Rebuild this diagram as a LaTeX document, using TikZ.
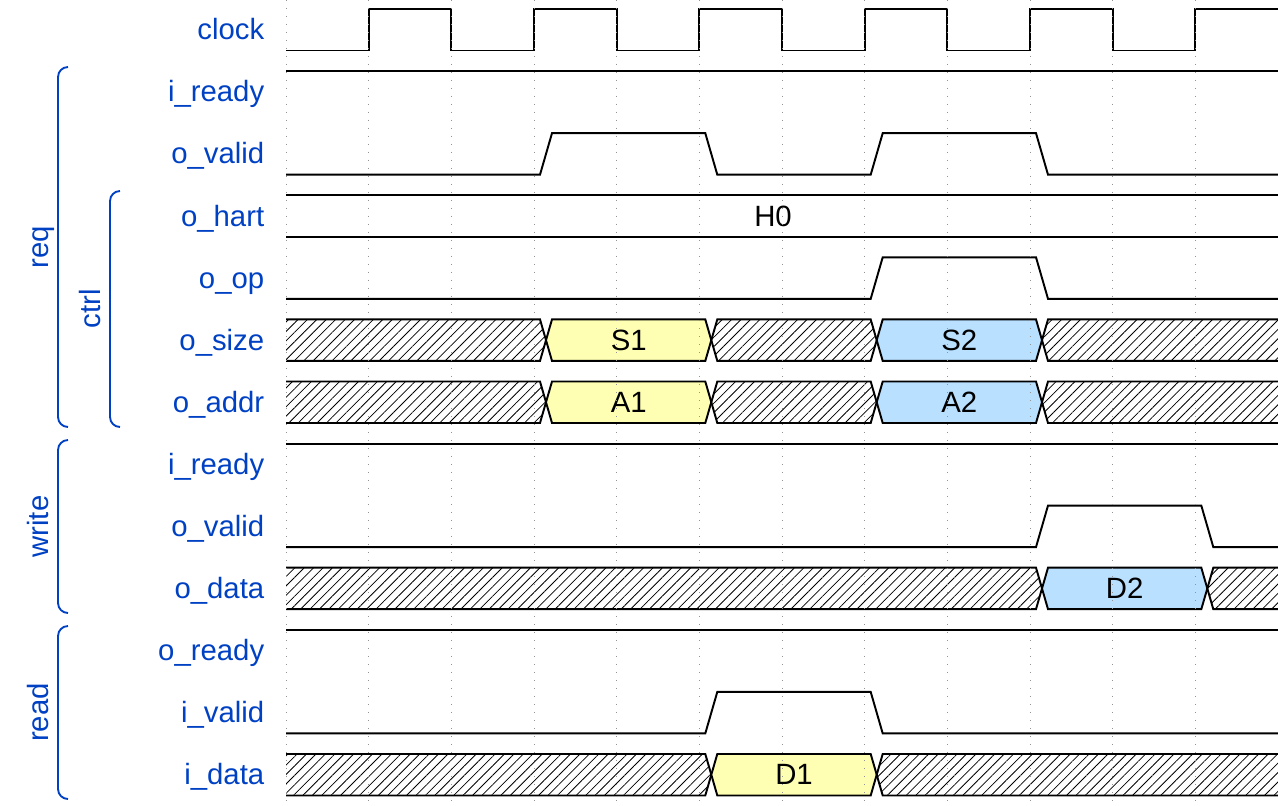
\documentclass[tikz,border=0pt]{standalone}
\usepackage{fontspec}
\setmainfont{Liberation Sans}
\usetikzlibrary{patterns.meta}
\definecolor{sigblue}{HTML}{0041C4}
\definecolor{datyel}{HTML}{FFFFB4}
\definecolor{datblu}{HTML}{B9E0FF}
\begin{document}
\begin{tikzpicture}[x=0.75pt,y=-0.75pt]
    \tikzstyle{wave}=[line width=1.45pt, line join=miter]
    \tikzstyle{hatch}=[pattern={Lines[angle=45,distance=5pt,line width=0.6pt]}]
    \tikzstyle{gridtick}=[gray!85, line width=0.7pt, dash pattern=on 0.8pt off 5.2pt]
    \tikzstyle{sig}=[font=\fontsize{22}{26}\selectfont, text=sigblue, anchor=base east, inner sep=0pt]
    \tikzstyle{val}=[font=\fontsize{22}{26}\selectfont, anchor=base, inner sep=0pt]
    \tikzstyle{grp}=[font=\fontsize{22}{26}\selectfont, text=sigblue, anchor=base, rotate=90, inner sep=0pt]
    \tikzstyle{brak}=[sigblue, line width=1.4pt, rounded corners=7.5pt]
    \useasboundingbox (0,0) rectangle (1278,806);
    % names
    \node[sig] (lclock) at (264.5,39.7){clock};
    \node[sig] (lrqready) at (264.5,101.8){i\_ready};
    \node[sig] (lrqvalid) at (264.5,163.9){o\_valid};
    \node[sig] (lhart) at (264.5,226){o\_hart};
    \node[sig] (lop) at (264.5,288.1){o\_op};
    \node[sig] (lsize) at (264.5,350.2){o\_size};
    \node[sig] (laddr) at (264.5,412.2){o\_addr};
    \node[sig] (lwrready) at (264.5,474.3){i\_ready};
    \node[sig] (lwrvalid) at (264.5,536.4){o\_valid};
    \node[sig] (lwrdata) at (264.5,598.5){o\_data};
    \node[sig] (lrdready) at (264.5,660.6){o\_ready};
    \node[sig] (lrdvalid) at (264.5,722.6){i\_valid};
    \node[sig] (lrddata) at (264.5,784.7){i\_data};
    % groups
    \draw[brak] (68,67) -- (58,67) -- (58,427) -- (68,427);
    \draw[brak] (120,191) -- (110,191) -- (110,427) -- (120,427);
    \draw[brak] (68,440) -- (58,440) -- (58,613) -- (68,613);
    \draw[brak] (68,626) -- (58,626) -- (58,799) -- (68,799);
    \node[grp] (greq) at (48,247){req};
    \node[grp] (gctrl) at (100,309){ctrl};
    \node[grp] (gwrite) at (48,526.5){write};
    \node[grp] (gread) at (48,712.5){read};
    % clock
    \draw[wave] (286,50.5) -- (368.7,50.5) -- (368.7,9) -- (451.3,9) -- (451.3,50.5) -- (534,50.5) -- (534,9)
      -- (616.7,9) -- (616.7,50.5) -- (699.3,50.5) -- (699.3,9) -- (782,9) -- (782,50.5) -- (864.7,50.5)
      -- (864.7,9) -- (947.3,9) -- (947.3,50.5) -- (1030,50.5) -- (1030,9) -- (1112.7,9) -- (1112.7,50.5)
      -- (1195.3,50.5) -- (1195.3,9) -- (1278,9);
    % req
    \draw[wave] (286,71.1) -- (1278,71.1);
    \draw[wave] (286,174.7) -- (540,174.7) -- (552,133.2) -- (705.3,133.2) -- (717.3,174.7) -- (870.7,174.7)
      -- (882.7,133.2) -- (1036,133.2) -- (1048,174.7) -- (1278,174.7);
    \draw[wave] (286,195.2) -- (1278,195.2);
    \draw[wave] (286,236.7) -- (1278,236.7);
    \node[val] (thart) at (773,226){H0};
    \draw[wave] (286,298.8) -- (870.7,298.8) -- (882.7,257.3) -- (1036,257.3) -- (1048,298.8) -- (1278,298.8);
    \foreach \yt/\yc/\yb/\nm in {319.4/340.2/360.9/S, 381.5/402.2/423/A}{
      \fill[hatch] (286,\yt) -- (540,\yt) -- (546,\yc) -- (540,\yb) -- (286,\yb) -- cycle;
      \draw[wave] (286,\yt) -- (540,\yt) -- (546,\yc) -- (540,\yb) -- (286,\yb);
      \filldraw[wave, fill=datyel] (552,\yt) -- (705.3,\yt) -- (711.3,\yc) -- (705.3,\yb) -- (552,\yb) -- (546,\yc) -- cycle;
      \filldraw[wave, hatch] (717.3,\yt) -- (870.7,\yt) -- (876.7,\yc) -- (870.7,\yb) -- (717.3,\yb) -- (711.3,\yc) -- cycle;
      \filldraw[wave, fill=datblu] (882.7,\yt) -- (1036,\yt) -- (1042,\yc) -- (1036,\yb) -- (882.7,\yb) -- (876.7,\yc) -- cycle;
      \fill[hatch] (1278,\yt) -- (1048,\yt) -- (1042,\yc) -- (1048,\yb) -- (1278,\yb) -- cycle;
      \draw[wave] (1278,\yt) -- (1048,\yt) -- (1042,\yc) -- (1048,\yb) -- (1278,\yb);
      \node[val] (t\nm1) at (628.7,\yc+10){\nm1};
      \node[val] (t\nm2) at (959.3,\yc+10){\nm2};
    }
    % write
    \draw[wave] (286,443.6) -- (1278,443.6);
    \draw[wave] (286,547.1) -- (1036,547.1) -- (1048,505.6) -- (1201.3,505.6) -- (1213.3,547.1) -- (1278,547.1);
    \fill[hatch] (286,567.7) -- (1036,567.7) -- (1042,588.5) -- (1036,609.2) -- (286,609.2) -- cycle;
    \draw[wave] (286,567.7) -- (1036,567.7) -- (1042,588.5) -- (1036,609.2) -- (286,609.2);
    \filldraw[wave, fill=datblu] (1048,567.7) -- (1201.3,567.7) -- (1207.3,588.5) -- (1201.3,609.2) -- (1048,609.2) -- (1042,588.5) -- cycle;
    \fill[hatch] (1278,567.7) -- (1213.3,567.7) -- (1207.3,588.5) -- (1213.3,609.2) -- (1278,609.2) -- cycle;
    \draw[wave] (1278,567.7) -- (1213.3,567.7) -- (1207.3,588.5) -- (1213.3,609.2) -- (1278,609.2);
    \node[val] (tD2) at (1124.7,598.5){D2};
    % read
    \draw[wave] (286,629.8) -- (1278,629.8);
    \draw[wave] (286,733.4) -- (705.3,733.4) -- (717.3,691.9) -- (870.7,691.9) -- (882.7,733.4) -- (1278,733.4);
    \fill[hatch] (286,754) -- (705.3,754) -- (711.3,774.7) -- (705.3,795.5) -- (286,795.5) -- cycle;
    \draw[wave] (286,754) -- (705.3,754) -- (711.3,774.7) -- (705.3,795.5) -- (286,795.5);
    \filldraw[wave, fill=datyel] (717.3,754) -- (870.7,754) -- (876.7,774.7) -- (870.7,795.5) -- (717.3,795.5) -- (711.3,774.7) -- cycle;
    \fill[hatch] (1278,754) -- (882.7,754) -- (876.7,774.7) -- (882.7,795.5) -- (1278,795.5) -- cycle;
    \draw[wave] (1278,754) -- (882.7,754) -- (876.7,774.7) -- (882.7,795.5) -- (1278,795.5);
    \node[val] (tD1) at (794,784.7){D1};
    % grid
    \foreach \i in {0,...,11}
      \draw[gridtick] ({286+82.667*\i},0) -- ({286+82.667*\i},806);
  \end{tikzpicture}
\end{document}
